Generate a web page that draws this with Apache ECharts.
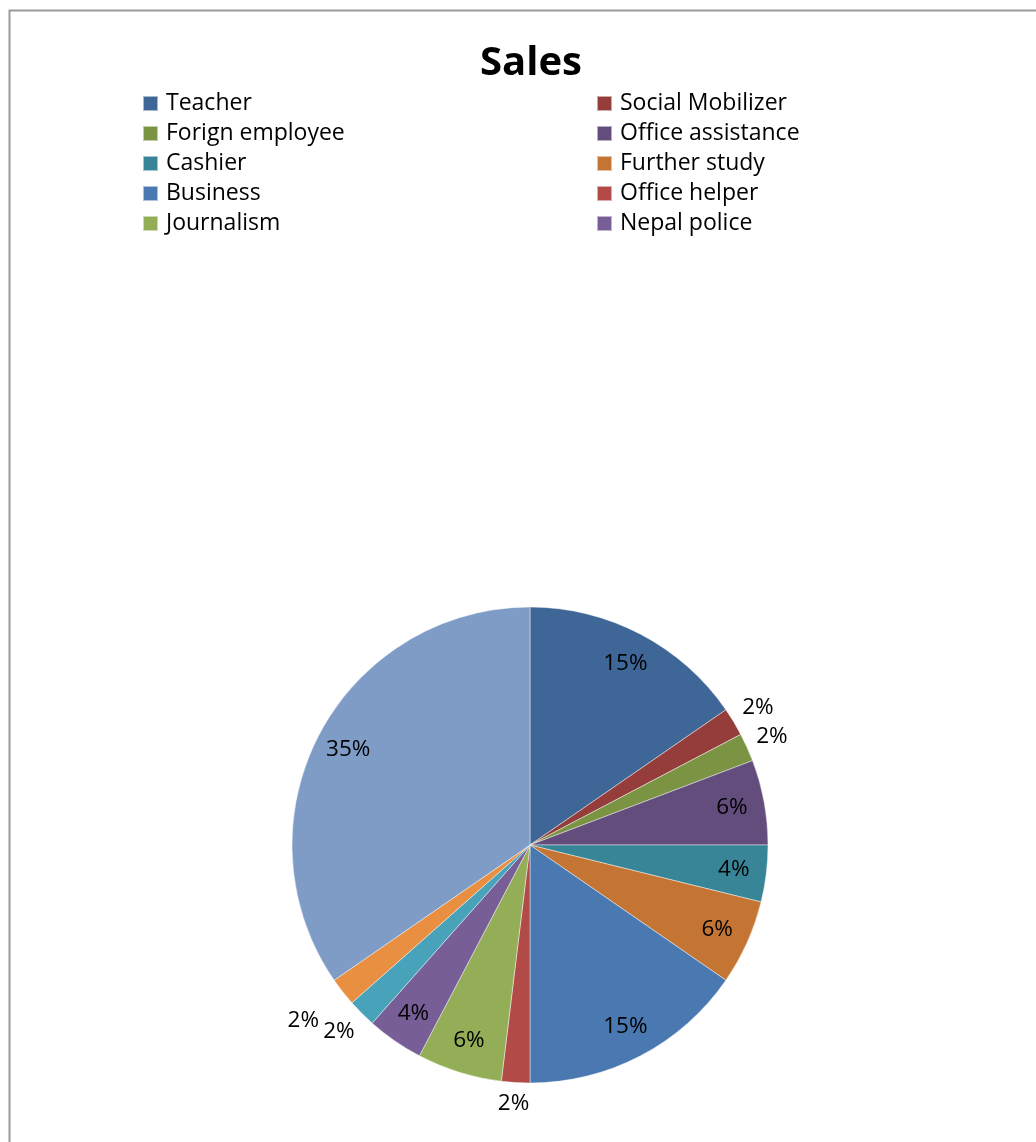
<!DOCTYPE html>
<html>
<head>
<meta charset="utf-8">
<script src="https://cdn.jsdelivr.net/npm/echarts@6/dist/echarts.min.js"></script>
<style>
  html, body { margin: 0; padding: 0; background: #ffffff; }
  #chart { width: 1036px; height: 1142px; }
</style>
</head>
<body>
<div id="chart"></div>
<script>
// Career outcomes of 52 respondents (counts); labels show each share in %
const categories = [
  'Teacher', 'Social Mobilizer', 'Forign employee', 'Office assistance',
  'Cashier', 'Further study', 'Business', 'Office helper',
  'Journalism', 'Nepal police', 'Other (a)', 'Other (b)', 'Other (c)'
];
const counts = [8, 1, 1, 3, 2, 3, 8, 1, 3, 2, 1, 1, 18];
const colors = [
  '#3e6696', '#953d3b', '#7a9444', '#634d7d', '#388598', '#c47534',
  '#4a78b0', '#b24a48', '#93ae56', '#775e97', '#48a2b9', '#e88f42', '#7f9cc7'
];
// Only the first ten categories are listed in the key
const legendLeft = ['Teacher', 'Forign employee', 'Cashier', 'Business', 'Journalism'];
const legendRight = ['Social Mobilizer', 'Office assistance', 'Further study', 'Office helper', 'Nepal police'];

const FONT = '"Open Sans", "Noto Sans", sans-serif';
const CX = 530, CY = 845, R = 238;

const total = counts.reduce((a, b) => a + b, 0);
const share = (i) => counts[i] / total * 100;
const isSmall = (i) => share(i) < 3;

// mid angle of slice i, clockwise from 12 o'clock, in radians
function midAngle(i) {
  let before = 0;
  for (let k = 0; k < i; k++) before += counts[k];
  return (before + counts[i] / 2) / total * Math.PI * 2;
}
const clamp = (v) => Math.max(-1, Math.min(1, v));

// Centre of an outside label box for thin slice i; if it collides with the
// previous thin slice's label it is pushed further out along its direction.
function placeSmall(i, w, h) {
  const a = midAngle(i);
  const s = Math.sin(a), c = Math.cos(a);
  const at = (d) => ({
    x: CX + s * d + clamp(s * 1.5) * w / 2,
    y: CY - c * d - clamp(c * 1.5) * h / 2
  });
  let d = R + 10;
  let p = at(d);
  if (i > 0 && isSmall(i - 1)) {
    const q = placeSmall(i - 1, w, h);
    const gap = 4;
    while (Math.abs(p.x - q.x) < w + gap && Math.abs(p.y - q.y) < h + gap && d < R + 80) {
      d += 2;
      p = at(d);
    }
  }
  return p;
}

const chart = echarts.init(document.getElementById('chart'), null, { renderer: 'canvas' });

const sliceData = categories.map((name, i) => ({
  name,
  value: counts[i],
  itemStyle: { color: colors[i] }
}));

const labelData = categories.map((name, i) => ({
  name,
  value: counts[i],
  label: { position: isSmall(i) ? 'outside' : 'inside' }
}));

const legendCommon = {
  orient: 'vertical',
  icon: 'rect',
  itemWidth: 15,
  itemHeight: 15,
  itemGap: 7,
  selectedMode: false,
  textStyle: { fontFamily: FONT, fontSize: 23, lineHeight: 23, color: '#000000', padding: [0, 0, 0, 3] }
};

chart.setOption({
  backgroundColor: '#ffffff',
  animation: false,
  title: {
    text: 'Sales',
    left: 526,
    textAlign: 'center',
    top: 39,
    textStyle: { fontFamily: FONT, fontSize: 40, fontWeight: 'bold', color: '#000000' }
  },
  legend: [
    Object.assign({}, legendCommon, { left: 137, top: 87, data: legendLeft }),
    Object.assign({}, legendCommon, { left: 591, top: 87, data: legendRight })
  ],
  graphic: [{
    type: 'rect',
    shape: { x: 9.5, y: 10.5, width: 1200, height: 1300 },
    style: { fill: 'none', stroke: '#9a9a9a', lineWidth: 2 },
    silent: true,
    z: 100
  }],
  series: [
    {
      type: 'pie',
      name: 'Sales',
      center: [CX, CY],
      radius: [0, R],
      startAngle: 90,
      clockwise: true,
      avoidLabelOverlap: false,
      label: { show: false },
      labelLine: { show: false },
      itemStyle: { borderColor: 'rgba(255,255,255,0.55)', borderWidth: 0.8 },
      emphasis: { disabled: true },
      data: sliceData
    },
    {
      // transparent ring used only to place the percentage labels
      type: 'pie',
      name: 'labels',
      center: [CX, CY],
      radius: [R * 0.7, R],
      startAngle: 90,
      clockwise: true,
      silent: true,
      avoidLabelOverlap: false,
      itemStyle: { color: 'rgba(0,0,0,0)', borderWidth: 0 },
      emphasis: { disabled: true },
      label: {
        show: true,
        formatter: (p) => Math.round(p.percent) + '%',
        fontFamily: FONT,
        fontSize: 22.5,
        color: '#000000'
      },
      labelLine: { show: false, length: 6, length2: 0 },
      labelLayout: function (params) {
        const i = params.dataIndex;
        if (!isSmall(i)) return {};
        const p = placeSmall(i, params.labelRect.width, params.labelRect.height);
        return { x: p.x, y: p.y, align: 'center', verticalAlign: 'middle' };
      },
      data: labelData
    }
  ]
});
</script>
</body>
</html>
